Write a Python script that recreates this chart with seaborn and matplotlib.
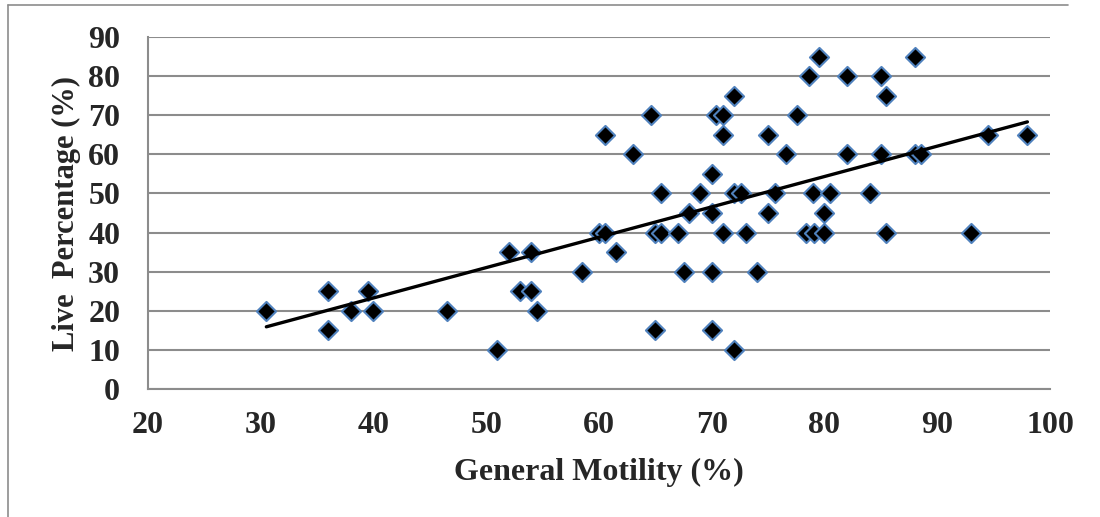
import matplotlib
matplotlib.use("Agg")
import numpy as np
import pandas as pd
import seaborn as sns
import matplotlib.pyplot as plt
from matplotlib.lines import Line2D

# General motility (%) and live sperm percentage (%) per sample
motility = [30.5, 36, 36, 38, 39.5, 40, 46.5, 51, 52, 53, 54, 54, 54.5, 58.5,
            60, 60.5, 60.5, 61.5, 63, 64.6, 65, 65.5, 65, 65.5, 67, 67.5, 68, 69,
            70, 70, 70, 70, 70.4, 71, 71, 71, 72, 72, 72.6, 72, 73, 74,
            75, 75, 75.6, 76.6, 77.6, 78.6, 79.5, 78.4, 79.1, 79, 80, 80, 80.5,
            82, 82, 84, 85, 85, 85.5, 85.5, 88, 88, 88.6, 93, 94.5, 98]
live = [20, 25, 15, 20, 25, 20, 20, 10, 35, 25, 35, 25, 20, 30,
        40, 40, 65, 35, 60, 70, 40, 40, 15, 50, 40, 30, 45, 50,
        55, 45, 30, 15, 70, 70, 65, 40, 75, 50, 50, 10, 40, 30,
        65, 45, 50, 60, 70, 80, 85, 40, 40, 50, 40, 45, 50,
        80, 60, 50, 80, 60, 75, 40, 85, 60, 60, 40, 65, 65]

# Linear trendline end points (motility, live %)
trend_motility = [30.5, 98]
trend_live = [15.9, 68.3]

x_ticks = [20, 30, 40, 50, 60, 70, 80, 90, 100]
y_ticks = [0, 10, 20, 30, 40, 50, 60, 70, 80, 90]

df = pd.DataFrame({"motility": motility, "live": live})
trend = pd.DataFrame({"motility": trend_motility, "live": trend_live})

sns.set_theme(style="white")
plt.rcParams["font.family"] = ["Liberation Serif", "DejaVu Serif"]
plt.rcParams["font.weight"] = "bold"

fig = plt.figure(figsize=(11, 5.17), dpi=100)
ax = fig.add_axes([0.1345, 0.2476, 0.82, 0.6808])

sns.scatterplot(data=df, x="motility", y="live", marker="D", s=95,
                color="black", edgecolor="#4F81BD", linewidth=1.5,
                zorder=3, ax=ax, legend=False)
sns.lineplot(data=trend, x="motility", y="live", color="black",
             linewidth=2.4, zorder=4, ax=ax)

ax.set_xlim(20, 100)
ax.set_ylim(0, 90)
ax.set_xticks(x_ticks)
ax.set_yticks(y_ticks)

ax.yaxis.grid(True, color="#8c8c8c", linewidth=1.5)
ax.xaxis.grid(False)
ax.set_axisbelow(True)
for side in ("top", "right"):
    ax.spines[side].set_visible(False)
for side in ("left", "bottom"):
    ax.spines[side].set_color("#8c8c8c")
    ax.spines[side].set_linewidth(1.5)

ax.tick_params(axis="y", length=0, pad=20, labelsize=23)
ax.tick_params(axis="x", length=0, pad=16, labelsize=23)
for lbl in ax.get_xticklabels() + ax.get_yticklabels():
    lbl.set_fontweight("bold")

ax.set_xlabel("General Motility (%)", fontsize=23, fontweight="bold")
ax.set_ylabel("Live  Percentage (%)", fontsize=22, fontweight="bold")
ax.xaxis.set_label_coords(0.5, -0.195)
ax.yaxis.set_label_coords(-0.074, 0.5)

# thin frame around the figure (left and top edges)
fig.add_artist(Line2D([8 / 1100, 8 / 1100], [0, 1 - 5 / 517],
                      transform=fig.transFigure, color="#8c8c8c", linewidth=1.2))
fig.add_artist(Line2D([8 / 1100, 1068 / 1100], [1 - 5 / 517, 1 - 5 / 517],
                      transform=fig.transFigure, color="#8c8c8c", linewidth=1.2))

fig.savefig("out.png", dpi=100)
